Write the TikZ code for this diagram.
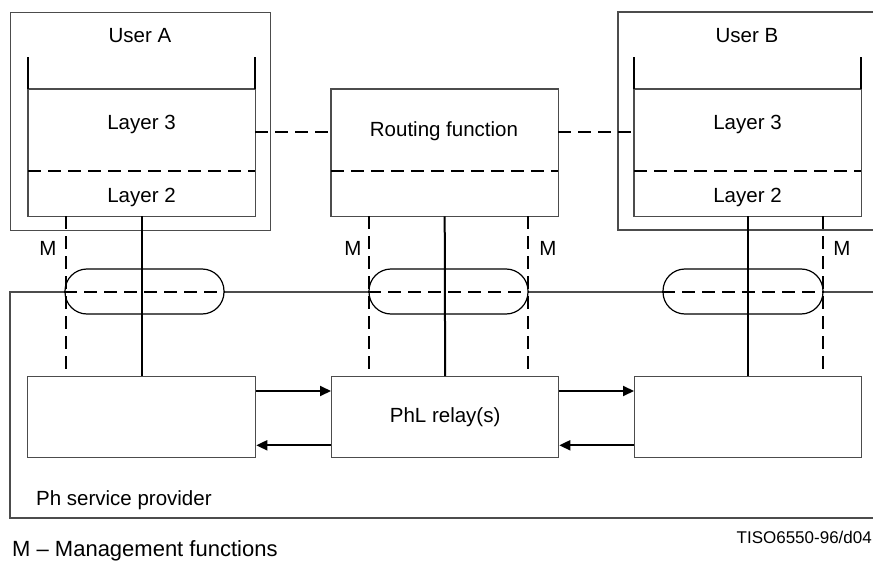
\documentclass[tikz,border=0pt]{standalone}
\usepackage{fontspec}
\setmainfont{Liberation Sans}
\usetikzlibrary{arrows.meta}

\begin{document}
\begin{tikzpicture}[
  x=1pt,y=-1pt,
  every node/.style={inner sep=0pt,font=\fontsize{20.5}{24}\selectfont},
  area/.style={anchor=north west,minimum width=227pt},
  frame/.style={draw=black!70,line width=1.3pt},
  post/.style={line width=2pt},
  link/.style={line width=2pt},
  mgmt/.style={line width=2pt,dash pattern=on 13pt off 7pt},
  flow/.style={line width=2pt,-{Triangle[length=11pt,width=10pt]}},
  tube/.style={draw,fill=white,line width=1.2pt,rounded corners=22pt,minimum height=45pt}]

  \useasboundingbox (0,0) rectangle (873,567);

  % users and routing
  \node[area,minimum width=260pt,minimum height=218pt,frame] (userA) at (10,12) {};
  \node (titleA) at (140,36) {User A};
  \node (titleB) at (747,36) {User B};

  \node[area,minimum height=82pt] (l3A)   at (28,89)   {};
  \node[area,minimum height=45pt] (l2A)   at (28,171)  {};
  \node[area,minimum height=82pt] (route) at (331,89)  {};
  \node[area,minimum height=45pt] (routeL)at (331,171) {};
  \node[area,minimum height=82pt] (l3B)   at (634,89)  {};
  \node[area,minimum height=45pt] (l2B)   at (634,171) {};

  \foreach \up/\low in {l3A/l2A,route/routeL,l3B/l2B}{
    \draw[frame] (\up.north west) rectangle (\low.south east);
    \draw[mgmt] (\up.south west) -- (\up.south east);
  }
  \foreach \up in {l3A,l3B}{
    \draw[post] (\up.north west) -- ++(0,-32);
    \draw[post] (\up.north east) -- ++(0,-32);
  }

  \node at (141.5,124) {Layer 3};
  \node at (141.5,197) {Layer 2};
  \node at (444,131)   {Routing function};
  \node at (747.5,124) {Layer 3};
  \node at (747.5,197) {Layer 2};

  \draw[frame] (873,12) -| (618,230) -- (873,230);

  \draw[mgmt] ([yshift=-2pt]l3A.east) -- ([yshift=-2pt]route.west);
  \draw[mgmt] ([yshift=-2pt]route.east) -- ([yshift=-2pt]l3B.west);

  % service provider
  \draw[frame] (873,292) -| (10,518) -- (873,518);

  \node[area,minimum width=228pt,minimum height=81pt,frame] (edgeA) at (27,376)  {};
  \node[area,minimum width=227pt,minimum height=81pt,frame] (relay) at (331,376) {PhL relay(s)};
  \node[area,minimum width=227pt,minimum height=81pt,frame] (edgeB) at (634,376) {};

  \node[tube,minimum width=159pt] (tubeA) at (144.5,291.5) {};
  \node[tube,minimum width=159pt] (tubeR) at (448.5,291.5) {};
  \node[tube,minimum width=160pt] (tubeB) at (743,291.5)   {};
  \foreach \tb in {tubeA,tubeR,tubeB}
    \draw[mgmt] (\tb.west) -- (\tb.east);

  \coordinate (mA)  at (66,0);
  \coordinate (mR1) at (369,0);
  \coordinate (mR2) at (528,0);
  \coordinate (mB)  at (823,0);

  \draw[mgmt] (l2A.south -| mA)     -- (edgeA.north -| mA);
  \draw[link] (l2A.south)           -- (l2A.south |- edgeA.north);
  \draw[mgmt] (routeL.south -| mR1) -- (relay.north -| mR1);
  \draw[link] (routeL.south)        -- (relay.north);
  \draw[mgmt] (routeL.south -| mR2) -- (relay.north -| mR2);
  \draw[link] (l2B.south)           -- (l2B.south |- edgeB.north);
  \draw[mgmt] (l2B.south -| mB)     -- (edgeB.north -| mB);

  \node (mlabA)  at (48,248)  {M};
  \node (mlabR1) at (353,248) {M};
  \node (mlabR2) at (548,248) {M};
  \node (mlabB)  at (842,248) {M};

  \draw[flow] ([yshift=-15pt]edgeA.north east) -- ([yshift=-15pt]relay.north west);
  \draw[flow] ([yshift=-15pt]relay.north east) -- ([yshift=-15pt]edgeB.north west);
  \draw[flow] ([yshift=13pt]relay.south west)  -- ([yshift=13pt]edgeA.south east);
  \draw[flow] ([yshift=13pt]edgeB.south west)  -- ([yshift=13pt]relay.south east);

  \node[anchor=west] (provider) at (36,500) {Ph service provider};
  \node[anchor=east,font=\fontsize{17}{20}\selectfont] (ref) at (872,537) {TISO6550-96/d04};
  \node[anchor=west,font=\fontsize{22}{26}\selectfont] (legend) at (12,551) {M -- Management functions};

\end{tikzpicture}
\end{document}
